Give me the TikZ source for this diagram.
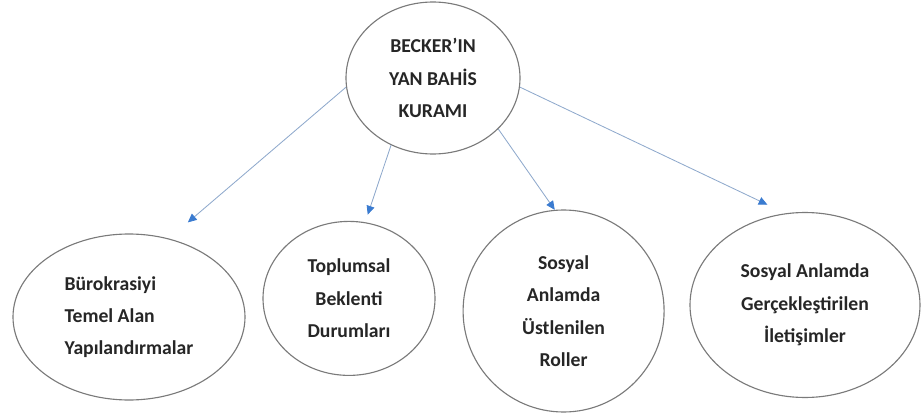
\documentclass[tikz,border=0pt]{standalone}
\usepackage{fontspec}
\setmainfont{Carlito}
\usepackage{tikz}
\usetikzlibrary{arrows.meta,shapes.geometric}
\definecolor{ringgray}{HTML}{7A7A7A}
\definecolor{linkblue}{HTML}{8FA9CC}
\definecolor{tipblue}{HTML}{3A7BD0}

\begin{document}
\begin{tikzpicture}[
  kuram/.style={ellipse, draw=ringgray, line width=0.8pt, inner sep=0pt,
    font=\fontsize{14}{23}\selectfont\bfseries, text=black!85},
  alt/.style={kuram, align=center},
  arr/.style={-{Triangle[length=2.2mm, width=2mm, color=tipblue]}, line width=0.6pt, linkblue}
]
  \useasboundingbox (0,0) rectangle (23.025,-10.45);

  \node[alt, minimum width=4.35cm, minimum height=3.8cm] (top) at (10.825,-1.95)
    {BECKER’IN\\YAN BAHİS\\KURAMI};

  \node[kuram, align=left, minimum width=5.8cm, minimum height=4.15cm] (b1) at (3.225,-7.925)
    {Bürokrasiyi\\Temel Alan\\Yapılandırmalar};
  \node[alt, minimum width=4.3cm, minimum height=3.85cm] (b2) at (8.725,-7.46)
    {Toplumsal\\Beklenti\\Durumları};
  \node[alt, minimum width=5.025cm, minimum height=5.05cm] (b3) at (14.09,-7.775)
    {Sosyal\\Anlamda\\Üstlenilen\\Roller};
  \node[alt, minimum width=5.75cm, minimum height=4.625cm] (b4) at (20.125,-7.625)
    {Sosyal Anlamda\\Gerçekleştirilen\\İletişimler};

  \draw[arr, shorten >=0.62cm] (top.186) -- (b1.63);
  \draw[arr, shorten >=0.2cm]  (top.238) -- (b2.78);
  \draw[arr]                   (top.322) -- (b3.95);
  \draw[arr, shorten >=0.5cm]  (top.354) -- (b4.102);
\end{tikzpicture}
\end{document}
